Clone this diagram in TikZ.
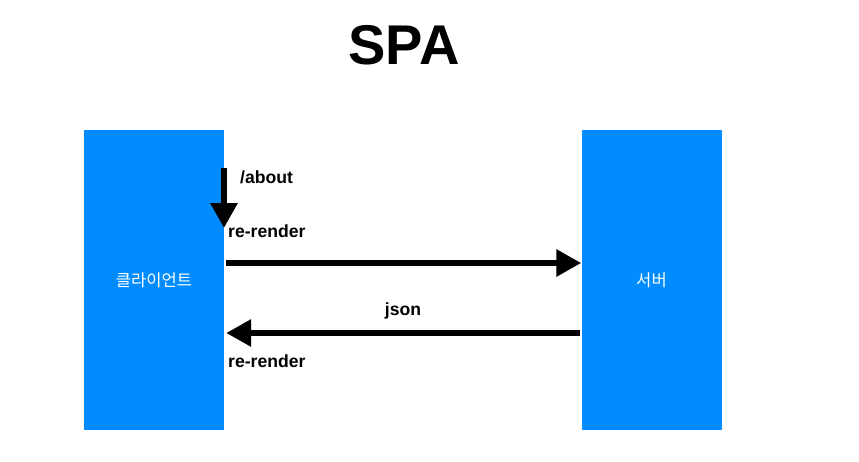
\documentclass[tikz,border=0pt]{standalone}
\usepackage{fontspec}
\setmainfont{Liberation Sans}
\newfontfamily\kofont{Noto Sans CJK KR}
\usetikzlibrary{arrows.meta}
\definecolor{boxblue}{RGB}{0,140,255}
\tikzset{
	side/.style={rectangle, fill=boxblue, inner sep=0pt, minimum width=140pt, minimum height=300pt, text=white, font=\kofont\fontsize{16.6}{19}\selectfont},
	flow/.style={line width=6pt, -{Triangle[width=26pt,length=25pt]}},
	lbl/.style={font=\bfseries\fontsize{17.6}{20}\selectfont, inner sep=0pt}
}
\begin{document}
\begin{tikzpicture}[x=1pt, y=-1pt]
			%%%%% START %%%%%
			
			\useasboundingbox (0, 0) rectangle (859, 461);
			
			\node[font=\bfseries\fontsize{56}{60}\selectfont] (title) at (404, 45) {SPA};
			
			\node[side] (client) at (154, 280) {클라이언트};
			\node[side] (server) at (651.5, 280) {서버};
			
			\coordinate (navtop) at (224, 168);
			\coordinate (navtip) at (224, 228);
			\draw[flow] (navtop) -- (navtip);
			\node[lbl, anchor=west] (about) at (240, 177) {/about};
			\node[lbl, anchor=west] (render1) at (228, 231) {re-render};
			
			\draw[flow, shorten <=2pt] (client.east |- 0, 263) -- (server.west |- 0, 263);
			
			\draw[flow, shorten <=1pt, shorten >=2pt] (server.west |- 0, 333) -- (client.east |- 0, 333);
			\node[lbl] (json) at (403, 311) {json};
			\node[lbl, anchor=west] (render2) at (228, 361) {re-render};
			
			%%%%% END %%%%%
\end{tikzpicture}
\end{document}
